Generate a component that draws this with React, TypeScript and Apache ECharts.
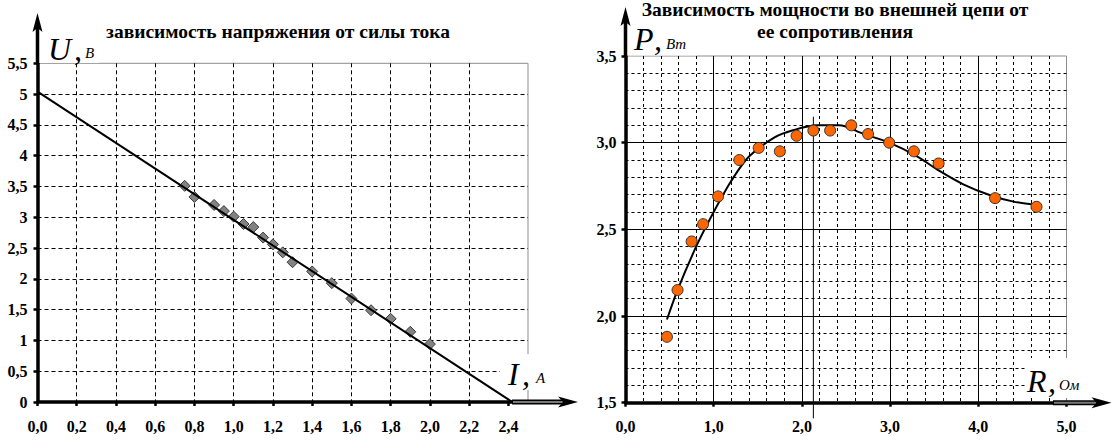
import React, { useEffect, useRef } from "react";
import * as echarts from "echarts";

// ---- Left chart: U(I) ----
const currentA = [0.75, 0.8, 0.9, 0.95, 1.0, 1.05, 1.1, 1.15, 1.2, 1.25, 1.3, 1.4, 1.5, 1.6, 1.7, 1.8, 1.9, 2.0];
const voltageV = [3.51, 3.33, 3.2, 3.1, 3.01, 2.89, 2.84, 2.67, 2.56, 2.43, 2.27, 2.12, 1.93, 1.68, 1.49, 1.35, 1.14, 0.94];
const fitCurrent = [0, 2.42];
const fitVoltage = [5.04, 0];
const leftXTicks = [0, 0.2, 0.4, 0.6, 0.8, 1.0, 1.2, 1.4, 1.6, 1.8, 2.0, 2.2, 2.4];

// ---- Right chart: P(R) ----
const resistanceOhm = [0.47, 0.59, 0.75, 0.88, 1.05, 1.29, 1.51, 1.75, 1.94, 2.13, 2.32, 2.56, 2.75, 2.99, 3.27, 3.55, 4.19, 4.66];
const powerW = [1.88, 2.15, 2.43, 2.53, 2.69, 2.9, 2.97, 2.95, 3.04, 3.07, 3.07, 3.1, 3.05, 3.0, 2.95, 2.88, 2.68, 2.63];
const curveR = [0.47, 0.59, 0.81, 1.0, 1.2, 1.4, 1.69, 1.89, 2.17, 2.42, 2.7, 2.99, 3.31, 3.55, 3.83, 4.12, 4.4, 4.68];
const curveP = [1.98, 2.15, 2.41, 2.6, 2.78, 2.92, 3.03, 3.07, 3.1, 3.1, 3.05, 3.0, 2.92, 2.84, 2.76, 2.7, 2.66, 2.64];
const peakR = 2.13;
const peakLineP = [3.15, 1.41];

const leftTitle = "зависимость напряжения от силы тока";
const rightTitle1 = "Зависимость мощности во внешней цепи от";
const rightTitle2 = "ее сопротивления";

const SERIF = "Liberation Serif";

export default function App() {
  const ref = useRef<HTMLDivElement>(null);
  useEffect(() => {
    document.body.style.margin = "0";
    const chart = echarts.init(ref.current!, null, { renderer: "svg" });
    const fmt1 = (v: number) => (Math.round(v * 10) / 10).toFixed(1).replace(".", ",");
    const fmtL = (v: number) => String(Math.round(v * 10) / 10).replace(".", ",");
    const labelStyle = { color: "#000", fontFamily: SERIF, fontWeight: "bold", fontSize: 16 };
    const axisLine = { show: true, onZero: false, lineStyle: { color: "#000", width: 3.5 } };
    const tick = { show: true, inside: false, length: 4, lineStyle: { color: "#000", width: 2.5 } };

    const option: any = {
      animation: false,
      backgroundColor: "#fff",
      textStyle: { fontFamily: SERIF },
      grid: [
        { left: 37.5, top: 63.3, width: 490.5, height: 338.7, show: true, borderColor: "#8c8c8c", borderWidth: 1 },
        { left: 625.5, top: 56, width: 441, height: 346.7, show: true, borderColor: "#8c8c8c", borderWidth: 1 },
      ],
      xAxis: [
        {
          type: "value", gridIndex: 0, min: 0, max: 2.5, interval: 0.2,
          axisLine, axisTick: { ...tick, customValues: leftXTicks },
          axisLabel: { ...labelStyle, margin: 16, formatter: fmt1, customValues: leftXTicks },
          splitLine: { show: true, showMaxLine: false, lineStyle: { color: "#000", type: [4, 3], width: 1 } },
        },
        {
          type: "value", gridIndex: 1, min: 0, max: 5, interval: 1,
          axisLine, axisTick: tick,
          axisLabel: { ...labelStyle, margin: 16, formatter: fmt1 },
          splitLine: { show: true, showMaxLine: false, lineStyle: { color: "#000", width: 1 } },
          minorTick: { show: false, splitNumber: 5 },
          minorSplitLine: { show: true, lineStyle: { color: "#000", type: [3, 3], width: 1 } },
        },
      ],
      yAxis: [
        {
          type: "value", gridIndex: 0, min: 0, max: 5.5, interval: 0.5,
          axisLine, axisTick: tick,
          axisLabel: { ...labelStyle, margin: 10, formatter: fmtL },
          splitLine: { show: true, showMaxLine: false, lineStyle: { color: "#000", type: [4, 3], width: 1 } },
        },
        {
          type: "value", gridIndex: 1, min: 1.5, max: 3.5, interval: 0.5,
          axisLine, axisTick: tick,
          axisLabel: { ...labelStyle, margin: 9, formatter: fmt1 },
          splitLine: { show: true, showMaxLine: false, lineStyle: { color: "#000", width: 1 } },
          minorTick: { show: false, splitNumber: 5 },
          minorSplitLine: { show: true, lineStyle: { color: "#000", type: [3, 3], width: 1 } },
        },
      ],
      series: [
        {
          type: "scatter", xAxisIndex: 0, yAxisIndex: 0, symbol: "diamond", symbolSize: 11, z: 3,
          itemStyle: { color: "#828282", borderColor: "#3a3a3a", borderWidth: 1, opacity: 1 },
          data: currentA.map((x, i) => [x, voltageV[i]]),
        },
        {
          type: "line", xAxisIndex: 0, yAxisIndex: 0, showSymbol: false, z: 4,
          lineStyle: { color: "#000", width: 2 },
          data: fitCurrent.map((x, i) => [x, fitVoltage[i]]),
        },
        {
          type: "line", xAxisIndex: 1, yAxisIndex: 1, showSymbol: false, smooth: 0.3, z: 3,
          lineStyle: { color: "#000", width: 2 },
          data: curveR.map((x, i) => [x, curveP[i]]),
        },
        {
          type: "scatter", xAxisIndex: 1, yAxisIndex: 1, symbol: "circle", symbolSize: 11, z: 4,
          itemStyle: { color: "#ff6600", borderColor: "#333", borderWidth: 1, opacity: 1 },
          data: resistanceOhm.map((x, i) => [x, powerW[i]]),
        },
        {
          type: "line", xAxisIndex: 1, yAxisIndex: 1, showSymbol: false, clip: false, z: 3,
          lineStyle: { color: "#000", width: 1 },
          data: peakLineP.map((p) => [peakR, p]),
        },
      ],
    };
    chart.setOption(option);

    const px = (g: number, v: number[]) => chart.convertToPixel({ gridIndex: g }, v) as number[];
    const L0 = px(0, [0, 0]);
    const LTop = px(0, [0, 5.5]);
    const R0 = px(1, [0, 1.5]);
    const RTop = px(1, [0, 3.5]);

    const upArrow = (x: number, fromY: number, tipY: number) => [
      { type: "line", z: 100, shape: { x1: x, y1: fromY, x2: x, y2: tipY + 12 }, style: { stroke: "#000", lineWidth: 3.5 } },
      { type: "polygon", z: 101, shape: { points: [[x, tipY], [x - 5, tipY + 19], [x, tipY + 15], [x + 5, tipY + 19]] }, style: { fill: "#000" } },
    ];
    const rightArrow = (y: number, fromX: number, tipX: number) => [
      { type: "line", z: 100, shape: { x1: fromX, y1: y, x2: tipX - 14, y2: y }, style: { stroke: "#000", lineWidth: 5 } },
      { type: "line", z: 101, shape: { x1: fromX + 1, y1: y, x2: tipX - 15, y2: y }, style: { stroke: "#7a7a7a", lineWidth: 2 } },
      { type: "polygon", z: 102, shape: { points: [[tipX, y], [tipX - 20, y - 5.5], [tipX - 15, y], [tipX - 20, y + 5.5]] }, style: { fill: "#000" } },
    ];
    const bg = (x: number, y: number, w: number, h: number) => ({ type: "rect", z: 95, shape: { x, y, width: w, height: h }, style: { fill: "#fff" } });
    const txt = (text: string, x: number, y: number, size: number, italic: boolean, bold: boolean, align = "left", lineHeight?: number) => ({
      type: "text", z: 110,
      style: {
        text, x, y, fill: "#000",
        fontFamily: SERIF, fontSize: size,
        fontStyle: italic ? "italic" : "normal",
        fontWeight: bold ? "bold" : "normal",
        align, verticalAlign: "middle",
        ...(lineHeight ? { lineHeight } : {}),
      },
    });

    chart.setOption({
      graphic: [
        bg(38.5, 28, 60, 35),
        bg(500, 354, 56, 36),
        bg(627, 18, 70, 37.5),
        bg(1026, 358, 70, 40),
        ...upArrow(L0[0], LTop[1], 13),
        ...upArrow(R0[0], RTop[1], 7),
        ...rightArrow(L0[1], 512, 578),
        ...rightArrow(R0[1], 1053, 1111.5),
        txt(leftTitle, 278, 31.5, 19.5, false, true, "center", 18),
        txt(rightTitle1, 835, 9, 19.5, false, true, "center", 18),
        txt(rightTitle2, 835, 31.5, 19.5, false, true, "center", 18),
        txt("U", 48, 48.5, 32, true, false),
        txt(",", 74, 48.5, 32, true, false),
        txt("В", 85, 52.5, 15, true, false),
        txt("P", 634, 39, 32, true, false),
        txt(",", 654, 39, 32, true, false),
        txt("Вт", 666, 44, 15, true, false),
        txt("I", 508, 373.7, 32, true, false),
        txt(",", 522, 373.7, 32, true, false),
        txt("А", 536, 378, 15, true, false),
        txt("R", 1027, 381, 32, true, false),
        txt(",", 1048, 381, 32, true, false),
        txt("Ом", 1059, 385, 15, true, false),
      ],
    });

    return () => chart.dispose();
  }, []);
  return <div ref={ref} style={{ width: 1119, height: 447 }} />;
}
